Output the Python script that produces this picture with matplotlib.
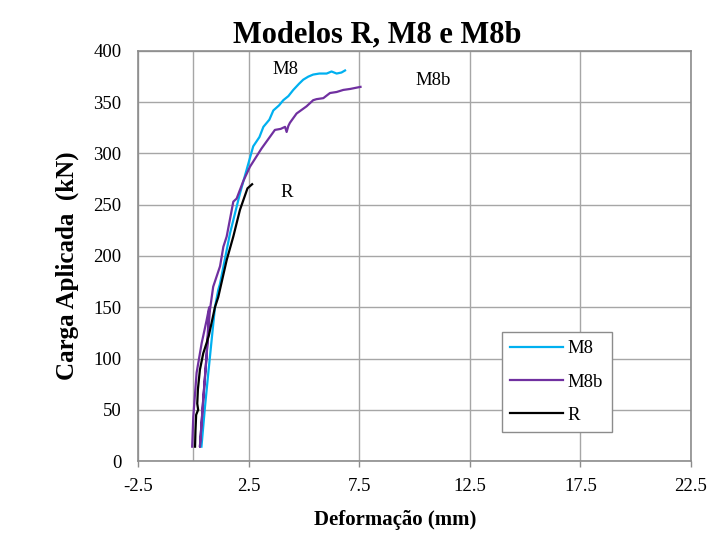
# ----------------------------------------------------------------------------
# 1. IMPORTAÇÃO DE BIBLIOTECAS
# ----------------------------------------------------------------------------
import numpy as np
import matplotlib
matplotlib.use('Agg')
import matplotlib.pyplot as plt

# ----------------------------------------------------------------------------
# 2. DADOS
# ----------------------------------------------------------------------------
# Modelo M8 (azul)
m8_def = [0.37, 0.53, 0.68, 0.83, 0.98, 1.13, 1.21, 1.66, 2.11, 2.41, 2.71,
          2.99, 3.17, 3.44, 3.62, 3.88, 4.07, 4.30, 4.52, 4.78, 4.97, 5.20,
          5.42, 5.70, 6.03, 6.25, 6.48, 6.70, 6.86]
m8_carga = [14, 53, 86, 118, 150, 167, 173, 222, 261, 284, 307,
            316, 326, 333, 342, 347, 352, 356, 362, 368, 372, 375,
            377, 378, 378, 380, 378, 379, 381]

# Modelo M8b (roxo) - carga, descarga e recarga inicial
m8b_def = [-0.05, 0.00, 0.15, 0.38, 0.60, 0.72, 0.60, 0.45, 0.30, 0.45, 0.60,
           0.75, 0.90, 1.21, 1.36, 1.51, 1.81, 1.96, 2.26, 2.56, 3.09, 3.69,
           3.95, 4.15, 4.22, 4.30, 4.37, 4.67, 5.12, 5.42, 5.57, 5.88, 6.18,
           6.48, 6.78, 7.10, 7.56]
m8b_carga = [14, 43, 86, 115, 137, 150, 102, 60, 14, 60, 102,
             147, 170, 190, 209, 219, 253, 256, 273, 287, 305, 323,
             324, 326, 321, 327, 330, 339, 346, 352, 353, 354, 359,
             360, 362, 363, 365]

# Modelo R (preto)
r_def = [0.08, 0.10, 0.13, 0.22, 0.18, 0.21, 0.30, 0.45, 0.60, 0.70, 0.83,
         0.98, 1.13, 1.32, 1.51, 1.81, 2.11, 2.45, 2.66]
r_carga = [14, 30, 45, 50, 56, 70, 89, 105, 115, 122, 135,
           150, 160, 178, 196, 219, 245, 266, 270]

x_ticks = [-2.5, 2.5, 7.5, 12.5, 17.5, 22.5]
y_ticks = [0, 50, 100, 150, 200, 250, 300, 350, 400]

# ----------------------------------------------------------------------------
# 3. GRÁFICO
# ----------------------------------------------------------------------------
plt.rcParams['font.family'] = ['Liberation Serif', 'DejaVu Serif']
cinza_grade = '#A6A6A6'
cinza_borda = '#8C8C8C'

fig = plt.figure(figsize=(7.09, 5.39), dpi=100)
ax = fig.add_axes([0.1946, 0.1447, 0.78, 0.7607])

ax.plot(m8_def, m8_carga, color='#00B0F0', lw=1.6, label='M8', zorder=3)
ax.plot(m8b_def, m8b_carga, color='#7030A0', lw=1.6, label='M8b', zorder=4)
ax.plot(r_def, r_carga, color='black', lw=1.6, label='R', zorder=5)

# eixo vertical cruzando em x = 0 (estilo Excel)
ax.axvline(0, color=cinza_grade, lw=1.0, zorder=1)

ax.set_xlim(-2.5, 22.5)
ax.set_ylim(0, 400)
ax.set_xticks(x_ticks)
ax.set_xticklabels([f'{v:g}' for v in x_ticks])
ax.set_yticks(y_ticks)
ax.grid(True, color=cinza_grade, lw=1.0, zorder=0)
ax.set_axisbelow(True)

for s in ax.spines.values():
    s.set_color(cinza_borda)
    s.set_linewidth(1.2)

ax.tick_params(axis='x', direction='out', length=4, width=1.0,
               color=cinza_borda, labelsize=13.5, pad=8)
ax.tick_params(axis='y', length=0, labelsize=13.5, pad=12)

# rótulos das curvas
ax.text(4.15, 382, 'M8', fontsize=13.5, ha='center', va='center')
ax.text(10.84, 371, 'M8b', fontsize=13.5, ha='center', va='center')
ax.text(4.24, 262, 'R', fontsize=13.5, ha='center', va='center')

# títulos
fig.text(0.532, 0.922, 'Modelos R, M8 e M8b', fontsize=22, fontweight='bold',
         ha='center', va='baseline')
fig.text(0.557, 0.035, 'Deformação (mm)', fontsize=15, fontweight='bold',
         ha='center', va='center')
fig.text(0.0945, 0.508, 'Carga Aplicada  (kN)', fontsize=18, fontweight='bold',
         ha='center', va='center', rotation=90)

leg = ax.legend(loc='lower left', bbox_to_anchor=(0.658, 0.0707),
                borderaxespad=0, fontsize=13.5, handlelength=2.8,
                handletextpad=0.27, labelspacing=0.85, borderpad=0.45,
                fancybox=False, framealpha=1, edgecolor=cinza_borda)
leg.get_frame().set_linewidth(1.0)

# ----------------------------------------------------------------------------
# 4. SALVAR
# ----------------------------------------------------------------------------
fig.savefig('out.png', dpi=100)
